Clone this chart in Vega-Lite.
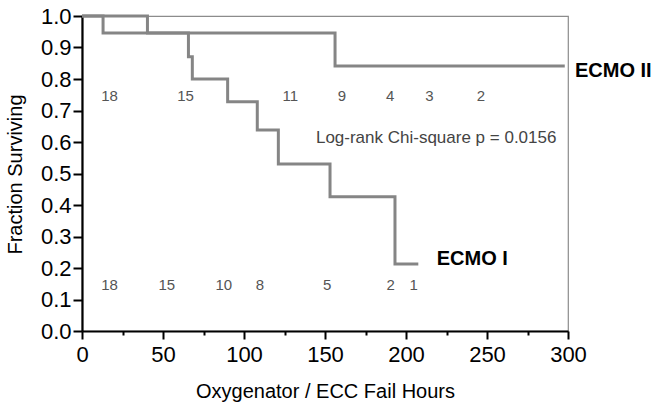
{
  "$schema": "https://vega.github.io/schema/vega-lite/v6.json",
  "width": 486,
  "height": 315,
  "autosize": {"type": "none"},
  "padding": {"left": 82, "top": 16, "right": 84, "bottom": 73},
  "config": {
    "view": {"stroke": "#8c8c8c", "strokeWidth": 1.2},
    "font": "Liberation Sans",
    "axis": {
      "grid": false,
      "domainColor": "black",
      "domainWidth": 2.2,
      "tickColor": "black",
      "tickWidth": 2,
      "labelColor": "black",
      "titleColor": "black",
      "labelFont": "Liberation Sans",
      "titleFont": "Liberation Sans",
      "titleFontWeight": "normal",
      "labelFontSize": 22,
      "titleFontSize": 20,
      "labelOverlap": false,
      "labelFlush": false
    }
  },
  "datasets": {
    "curves": [
      {"group": "ECMO I", "hours": 0, "surv": 1.0},
      {"group": "ECMO I", "hours": 13, "surv": 0.946},
      {"group": "ECMO I", "hours": 65.7, "surv": 0.871},
      {"group": "ECMO I", "hours": 68.1, "surv": 0.8},
      {"group": "ECMO I", "hours": 89.9, "surv": 0.728},
      {"group": "ECMO I", "hours": 108.2, "surv": 0.638},
      {"group": "ECMO I", "hours": 121.2, "surv": 0.53},
      {"group": "ECMO I", "hours": 153.1, "surv": 0.426},
      {"group": "ECMO I", "hours": 193.2, "surv": 0.213},
      {"group": "ECMO I", "hours": 207.6, "surv": 0.213},
      {"group": "ECMO II", "hours": 0, "surv": 1.0},
      {"group": "ECMO II", "hours": 40.4, "surv": 0.946},
      {"group": "ECMO II", "hours": 156.2, "surv": 0.841},
      {"group": "ECMO II", "hours": 298, "surv": 0.841}
    ],
    "atrisk": [
      {"group": "ECMO II", "hours": 17, "surv": 0.745, "n": "18"},
      {"group": "ECMO II", "hours": 63.9, "surv": 0.745, "n": "15"},
      {"group": "ECMO II", "hours": 128.6, "surv": 0.745, "n": "11"},
      {"group": "ECMO II", "hours": 160.5, "surv": 0.745, "n": "9"},
      {"group": "ECMO II", "hours": 190.3, "surv": 0.745, "n": "4"},
      {"group": "ECMO II", "hours": 214.5, "surv": 0.745, "n": "3"},
      {"group": "ECMO II", "hours": 246.3, "surv": 0.745, "n": "2"},
      {"group": "ECMO I", "hours": 17, "surv": 0.146, "n": "18"},
      {"group": "ECMO I", "hours": 52.3, "surv": 0.146, "n": "15"},
      {"group": "ECMO I", "hours": 87.5, "surv": 0.146, "n": "10"},
      {"group": "ECMO I", "hours": 109.9, "surv": 0.146, "n": "8"},
      {"group": "ECMO I", "hours": 151.4, "surv": 0.146, "n": "5"},
      {"group": "ECMO I", "hours": 190.6, "surv": 0.146, "n": "2"},
      {"group": "ECMO I", "hours": 204.7, "surv": 0.146, "n": "1"}
    ],
    "labels": [
      {"hours": 304.3, "surv": 0.806, "label": "ECMO II"},
      {"hours": 219, "surv": 0.21, "label": "ECMO I"}
    ],
    "note": [
      {"hours": 144.4, "surv": 0.597, "label": "Log-rank Chi-square p = 0.0156"}
    ]
  },
  "encoding": {
    "y": {
      "field": "surv", "type": "quantitative",
      "scale": {"domain": [0, 1], "nice": false},
      "axis": {
        "values": [0, 0.1, 0.2, 0.3, 0.4, 0.5, 0.6, 0.7, 0.8, 0.9, 1.0],
        "format": ".1f", "tickSize": 9, "labelPadding": 2,
        "title": "Fraction Surviving", "titleX": -57, "titleY": 158
      }
    }
  },
  "layer": [
    {
      "data": {"name": "curves"},
      "mark": {"type": "line", "interpolate": "step-after", "strokeWidth": 3, "color": "#858585"},
      "encoding": {
        "x": {
          "field": "hours", "type": "quantitative",
          "scale": {"domain": [0, 300], "nice": false},
          "axis": {
            "orient": "bottom",
            "values": [0, 50, 100, 150, 200, 250, 300],
            "tickSize": 8, "labelPadding": 5,
            "title": "Oxygenator / ECC Fail Hours",
            "titleY": 66, "titleBaseline": "alphabetic"
          }
        },
        "detail": {"field": "group"}
      }
    },
    {
      "data": {"name": "atrisk"},
      "mark": {"type": "text", "fontSize": 15, "color": "#555555", "baseline": "middle", "align": "center"},
      "encoding": {
        "x": {
          "field": "hours", "type": "quantitative",
          "axis": {
            "orient": "bottom",
            "values": [25, 75, 125, 175, 225, 275],
            "tickSize": 4, "labels": false, "domain": false, "title": null
          }
        },
        "text": {"field": "n"}
      }
    },
    {
      "data": {"name": "note"},
      "mark": {"type": "text", "fontSize": 17, "color": "#444444", "baseline": "alphabetic", "align": "left"},
      "encoding": {
        "x": {"field": "hours", "type": "quantitative", "axis": null},
        "text": {"field": "label"}
      }
    },
    {
      "data": {"name": "labels"},
      "mark": {"type": "text", "fontSize": 20, "fontWeight": "bold", "color": "black", "baseline": "alphabetic", "align": "left", "clip": false},
      "encoding": {
        "x": {"field": "hours", "type": "quantitative", "axis": null},
        "text": {"field": "label"}
      }
    }
  ],
  "resolve": {"axis": {"x": "independent"}}
}
